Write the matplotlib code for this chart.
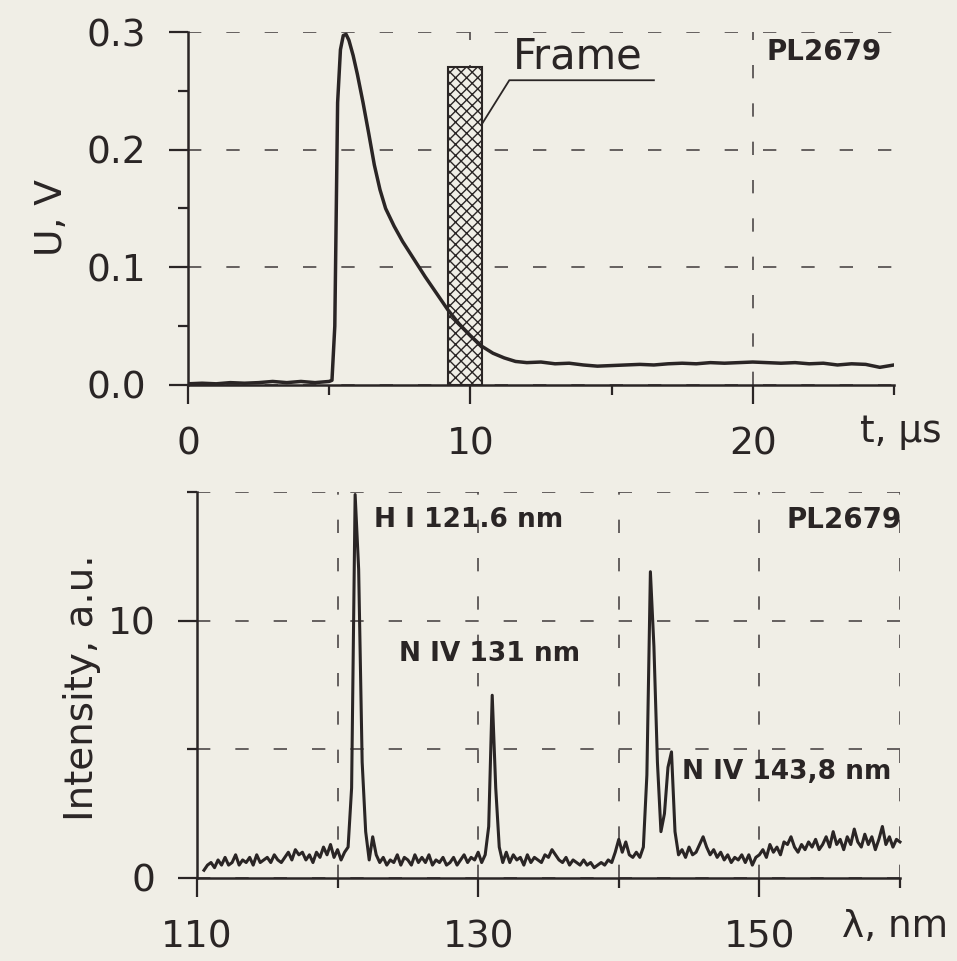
import numpy as np
import matplotlib.pyplot as plt
from matplotlib.patches import Rectangle
from matplotlib.ticker import FixedLocator, FormatStrFormatter

plt.rcParams['font.family'] = 'DejaVu Sans'

# upper trace: detector voltage vs time
t_us = [0, 0.5, 1, 1.5, 2, 2.5, 3, 3.5, 4, 4.5, 5,
        5.1, 5.2, 5.3, 5.4, 5.5, 5.6, 5.7,
        5.85, 6.0,
        6.2, 6.4, 6.6, 6.8, 7.0,
        7.3, 7.6,
        8.0, 8.4, 8.8, 9.2, 9.6, 10.0, 10.4, 10.8, 11.2, 11.6, 12.0,
        12.5, 13, 13.5, 14, 14.5, 15, 15.5, 16, 16.5, 17, 17.5, 18, 18.5,
        19, 19.5, 20, 20.5, 21, 21.5, 22, 22.5, 23, 23.5, 24, 24.5, 25]
u_volt = [0.001, 0.0015, 0.001, 0.002, 0.0015, 0.002, 0.003, 0.002, 0.003, 0.002, 0.003,
          0.004, 0.05, 0.24, 0.285, 0.297, 0.298, 0.293,
          0.280, 0.264,
          0.240, 0.214, 0.187, 0.166, 0.150,
          0.135, 0.122,
          0.107, 0.092, 0.078, 0.064, 0.052, 0.042, 0.033, 0.027, 0.023, 0.020, 0.019,
          0.0195, 0.018, 0.0185, 0.017, 0.016, 0.0165, 0.017, 0.0175, 0.017, 0.018, 0.0185, 0.018, 0.019,
          0.0185, 0.019, 0.0195, 0.019, 0.0185, 0.019, 0.018, 0.0185, 0.017, 0.018, 0.0175, 0.015, 0.017]

# spectrometer frame (gate) on the time trace
frame_start, frame_end, frame_height = 9.2, 10.4, 0.27

# lower trace: spectrum
wl_start, wl_step = 110.5, 0.25
intensity = [0.3, 0.5,
             0.6, 0.4, 0.7, 0.5,   # 111
             0.8, 0.5, 0.6, 0.9,
             0.5, 0.7, 0.6, 0.8,
             0.5, 0.9, 0.6, 0.7,
             0.8, 0.6, 0.9, 0.7,   # 115
             0.6, 0.8, 1.0, 0.7,
             1.1, 0.9, 1.0, 0.7,
             0.9, 0.6, 1.0, 0.8,
             1.2, 0.9, 1.3, 0.8,
             1.1, 0.7, 1.0, 1.2,   # 120
             3.5, 14.9, 12.0, 4.5,
             1.8, 0.7, 1.6, 0.9,
             0.6, 0.8, 0.5, 0.7,
             0.6, 0.9, 0.5, 0.8,
             0.7, 0.5, 0.9, 0.6,   # 125
             0.8, 0.6, 0.9, 0.5,
             0.7, 0.6, 0.8, 0.5,
             0.6, 0.8, 0.5, 0.7,
             0.9, 0.6, 0.8, 0.7,
             1.0, 0.6, 0.9, 2.0,   # 130
             7.1, 3.5, 1.2, 0.6,
             1.0, 0.6, 0.9, 0.7,
             0.8, 0.5, 0.9, 0.6,
             0.8, 0.7, 0.6, 0.9,
             0.8, 1.1, 0.9, 0.7,   # 135
             0.6, 0.8, 0.5, 0.7,
             0.6, 0.5, 0.7, 0.5,
             0.6, 0.4, 0.5, 0.6,
             0.5, 0.7, 0.6, 1.0,
             1.5, 1.0, 1.4, 0.9,   # 140
             0.8, 1.0, 0.8, 1.2,
             4.0, 11.9, 9.0, 4.5,
             1.8, 2.5, 4.3, 4.9,
             1.8, 0.9, 1.1, 0.8,
             1.2, 0.9, 1.0, 1.3,   # 145
             1.6, 1.2, 0.9, 1.1,
             0.8, 1.0, 0.7, 0.9,
             0.6, 0.8, 0.7, 0.9,
             0.6, 0.9, 0.5, 0.8,
             0.9, 1.1, 0.8, 1.3,   # 150
             1.0, 1.2, 0.9, 1.4,
             1.3, 1.6, 1.2, 1.0,
             1.3, 1.1, 1.4, 1.2,
             1.5, 1.1, 1.3, 1.6,
             1.2, 1.8, 1.3, 1.5,   # 155
             1.1, 1.6, 1.3, 1.9,
             1.4, 1.2, 1.7, 1.3,
             1.6, 1.1, 1.5, 2.0,
             1.3, 1.6, 1.2, 1.5,
             1.4]                  # 160
wavelength = wl_start + wl_step * np.arange(len(intensity))

line_labels = ['H I 121.6 nm', 'N IV 131 nm', 'N IV 143,8 nm']
line_label_x = [122.6, 124.4, 144.5]
line_label_y = [13.9, 8.7, 4.1]

paper = '#f0eee6'
ink = '#2a2525'
grid_kw = dict(color='#4d4848', linewidth=1.2, linestyle=(0, (8, 15)))

fig = plt.figure(figsize=(9.57, 9.61), dpi=100, facecolor=paper)

# ---- top: U(t)
ax1 = fig.add_axes([0.1964, 0.5994, 0.7377, 0.3673])
ax1.set_facecolor(paper)
ax1.set_xlim(0, 25)
ax1.set_ylim(0, 0.3)
ax1.xaxis.set_major_locator(FixedLocator([0, 10, 20]))
ax1.xaxis.set_minor_locator(FixedLocator([5, 15, 25]))
ax1.yaxis.set_major_locator(FixedLocator([0, 0.1, 0.2, 0.3]))
ax1.yaxis.set_minor_locator(FixedLocator([0.05, 0.15, 0.25]))
ax1.yaxis.set_major_formatter(FormatStrFormatter('%.1f'))
ax1.grid(True, which='major', **grid_kw)

ax1.add_patch(Rectangle((frame_start, 0), frame_end - frame_start, frame_height,
                        facecolor=paper, edgecolor=ink, hatch='xxx', linewidth=1.5, zorder=3))
ax1.plot(t_us, u_volt, color=ink, linewidth=2.5, zorder=4)

ax1.text(11.5, 0.279, 'Frame', fontsize=30, color=ink, ha='left', va='center')
ax1.plot([10.39, 11.38, 16.5], [0.221, 0.259, 0.259], color=ink, linewidth=1.3, zorder=4)
ax1.text(20.5, 0.283, 'PL2679', fontsize=20, fontweight='bold', color=ink, ha='left', va='center')

# ---- bottom: spectrum
ax2 = fig.add_axes([0.2058, 0.0864, 0.7346, 0.4017])
ax2.set_facecolor(paper)
ax2.set_xlim(110, 160)
ax2.set_ylim(0, 15)
ax2.xaxis.set_major_locator(FixedLocator([110, 130, 150]))
ax2.xaxis.set_minor_locator(FixedLocator([120, 140, 160]))
ax2.yaxis.set_major_locator(FixedLocator([0, 10]))
ax2.yaxis.set_minor_locator(FixedLocator([5, 15]))
ax2.grid(True, which='both', **grid_kw)

ax2.plot(wavelength, intensity, color=ink, linewidth=2.2, zorder=4, clip_on=False)
for lab, lx, ly in zip(line_labels, line_label_x, line_label_y):
    ax2.text(lx, ly, lab, fontsize=19, fontweight='bold', color=ink, ha='left', va='center')
ax2.text(160.1, 13.9, 'PL2679', fontsize=20, fontweight='bold', color=ink, ha='right', va='center')

for ax in (ax1, ax2):
    for side in ('top', 'right'):
        ax.spines[side].set_visible(False)
    for side in ('left', 'bottom'):
        ax.spines[side].set_color(ink)
        ax.spines[side].set_linewidth(1.8)
    ax.set_axisbelow(True)
    ax.tick_params(which='major', direction='out', length=14, width=1.6, pad=16,
                   labelsize=27, colors=ink)
    ax.tick_params(which='minor', direction='out', length=7, width=1.6, colors=ink)

fig.text(0.054, 0.774, 'U, V', fontsize=27, color=ink, rotation=90, ha='center', va='center')
fig.text(0.941, 0.550, 't, μs', fontsize=27, color=ink, ha='center', va='center')
fig.text(0.086, 0.284, 'Intensity, a.u.', fontsize=28, color=ink, rotation=90, ha='center', va='center')
fig.text(0.935, 0.035, 'λ, nm', fontsize=27, color=ink, ha='center', va='center')

fig.savefig('out.png', dpi=100, facecolor=paper)
